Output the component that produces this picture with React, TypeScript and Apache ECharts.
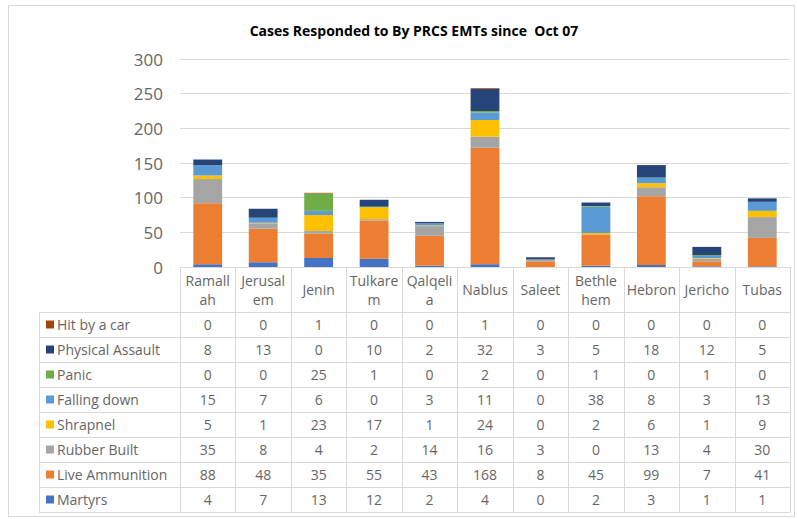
import React, { useEffect, useRef } from "react";
import * as echarts from "echarts";

const categories = ["Ramallah", "Jerusalem", "Jenin", "Tulkarem", "Qalqelia", "Nablus", "Saleet", "Bethlehem", "Hebron", "Jericho", "Tubas"];
const headerLabels = ["Ramall\nah", "Jerusal\nem", "Jenin", "Tulkare\nm", "Qalqeli\na", "Nablus", "Saleet", "Bethle\nhem", "Hebron", "Jericho", "Tubas"];

const martyrs = [4, 7, 13, 12, 2, 4, 0, 2, 3, 1, 1];
const liveAmmunition = [88, 48, 35, 55, 43, 168, 8, 45, 99, 7, 41];
const rubberBuilt = [35, 8, 4, 2, 14, 16, 3, 0, 13, 4, 30];
const shrapnel = [5, 1, 23, 17, 1, 24, 0, 2, 6, 1, 9];
const fallingDown = [15, 7, 6, 0, 3, 11, 0, 38, 8, 3, 13];
const panic = [0, 0, 25, 1, 0, 2, 0, 1, 0, 1, 0];
const physicalAssault = [8, 13, 0, 10, 2, 32, 3, 5, 18, 12, 5];
const hitByACar = [0, 0, 1, 0, 0, 1, 0, 0, 0, 0, 0];

const yTicks = [0, 50, 100, 150, 200, 250, 300];

// stacking order bottom -> top
const seriesDefs = [
  { name: "Martyrs", data: martyrs, color: "#4472C4" },
  { name: "Live Ammunition", data: liveAmmunition, color: "#ED7D31" },
  { name: "Rubber Built", data: rubberBuilt, color: "#A5A5A5" },
  { name: "Shrapnel", data: shrapnel, color: "#FFC000" },
  { name: "Falling down", data: fallingDown, color: "#5B9BD5" },
  { name: "Panic", data: panic, color: "#70AD47" },
  { name: "Physical Assault", data: physicalAssault, color: "#264478" },
  { name: "Hit by a car", data: hitByACar, color: "#9E480E" },
];

const FONT = "'Open Sans', 'Noto Sans', sans-serif";
const TEXT = "#666666";
const LINE = "#D9D9D9";

export default function App() {
  const ref = useRef<HTMLDivElement>(null);
  useEffect(() => {
    if (!ref.current) return;
    const chart = echarts.init(ref.current, null, { renderer: "svg" });
    chart.setOption({
      animation: false,
      backgroundColor: "#ffffff",
      title: {
        text: "Cases Responded to By PRCS EMTs since  Oct 07",
        left: 409,
        top: 18,
        textAlign: "center",
        textStyle: { fontFamily: FONT, fontSize: 14, fontWeight: "bold", color: "#000000" },
      },
      grid: { left: 180, right: 7, top: 59, bottom: 252, containLabel: false },
      xAxis: {
        type: "category",
        data: categories,
        axisLine: { show: true, lineStyle: { color: LINE } },
        axisTick: { show: false },
        axisLabel: { show: false },
      },
      yAxis: {
        type: "value",
        min: yTicks[0],
        max: yTicks[yTicks.length - 1],
        interval: 50,
        axisLine: { show: false },
        axisTick: { show: false },
        splitLine: { lineStyle: { color: LINE, width: 1 } },
        axisLabel: { color: TEXT, fontFamily: FONT, fontSize: 17, margin: 17 },
      },
      series: seriesDefs.map((s) => ({
        type: "bar",
        name: s.name,
        stack: "total",
        data: s.data,
        barWidth: "52%",
        itemStyle: { color: s.color },
      })),
    });

    const c0 = chart.convertToPixel({ xAxisIndex: 0 }, 0) as number;
    const c1 = chart.convertToPixel({ xAxisIndex: 0 }, 1) as number;
    const colW = c1 - c0;
    const tableLeft = c0 - colW / 2;
    const tableRight = tableLeft + colW * categories.length;
    const tableTop = chart.convertToPixel({ yAxisIndex: 0 }, 0) as number;
    const headerH = 45;
    const rowH = 25;
    const legendLeft = 39;
    const rows = seriesDefs.slice().reverse();
    const bodyTop = tableTop + headerH;
    const bottom = bodyTop + rowH * rows.length;

    const els: any[] = [];
    els.push({
      type: "rect",
      shape: { x: 8.5, y: 5.5, width: 786, height: 511 },
      style: { fill: "none", stroke: LINE, lineWidth: 1 },
      silent: true,
    });
    for (let k = 0; k <= categories.length; k++) {
      const x = Math.round(tableLeft + k * colW) + 0.5;
      els.push({ type: "line", shape: { x1: x, y1: tableTop, x2: x, y2: bottom }, style: { stroke: LINE, lineWidth: 1 } });
    }
    els.push({ type: "line", shape: { x1: legendLeft + 0.5, y1: bodyTop, x2: legendLeft + 0.5, y2: bottom }, style: { stroke: LINE, lineWidth: 1 } });
    for (let r = 0; r <= rows.length; r++) {
      const y = Math.round(bodyTop + r * rowH) + 0.5;
      els.push({ type: "line", shape: { x1: legendLeft, y1: y, x2: tableRight, y2: y }, style: { stroke: LINE, lineWidth: 1 } });
    }
    headerLabels.forEach((lab, i) => {
      els.push({
        type: "text",
        x: tableLeft + (i + 0.5) * colW,
        y: tableTop + headerH / 2,
        style: {
          text: lab,
          fill: TEXT,
          font: `14px ${FONT}`,
          align: "center",
          verticalAlign: "middle",
          lineHeight: 19,
        },
      });
    });
    rows.forEach((s, r) => {
      const cy = bodyTop + r * rowH + rowH / 2;
      els.push({ type: "rect", shape: { x: 46, y: cy - 4, width: 8, height: 8 }, style: { fill: s.color } });
      els.push({
        type: "text",
        x: 57,
        y: cy,
        style: { text: s.name, fill: TEXT, font: `14px ${FONT}`, align: "left", verticalAlign: "middle" },
      });
      s.data.forEach((v, i) => {
        els.push({
          type: "text",
          x: tableLeft + (i + 0.5) * colW,
          y: cy,
          style: { text: String(v), fill: TEXT, font: `14px ${FONT}`, align: "center", verticalAlign: "middle" },
        });
      });
    });
    chart.setOption({ graphic: els });
    return () => chart.dispose();
  }, []);
  return <div ref={ref} style={{ position: "fixed", left: 0, top: 0, width: 797, height: 519 }} />;
}
